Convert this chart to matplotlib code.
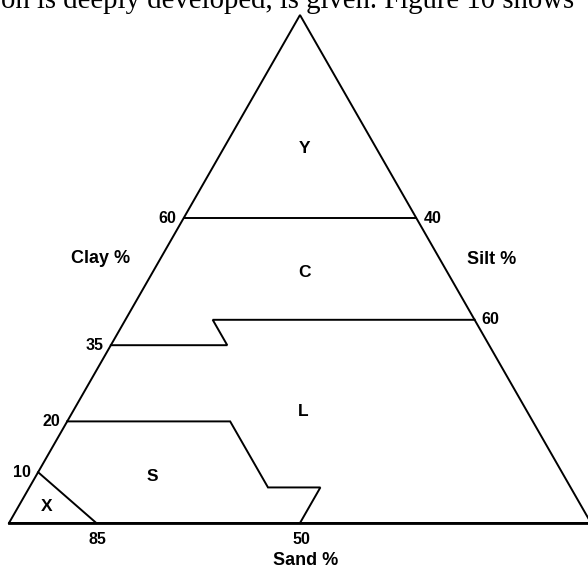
import matplotlib.pyplot as plt

# soil texture triangle, points given as (sand %, clay %), silt = 100 - sand - clay
outline = [(100, 0), (0, 0), (0, 100), (100, 0)]
y_c_line = [(40, 60), (0, 60)]
c_l_line = [(65, 35), (45, 35), (45, 40), (20, 40), (0, 40)]
l_s_line = [(80, 20), (52, 20), (52, 7), (43, 7), (50, 0)]
s_x_line = [(90, 10), (85, 0)]

clay_ticks = [60, 35, 20, 10]
silt_ticks = [40, 60]
sand_ticks = [85, 50]

classes = ["Y", "C", "L", "S", "X"]
class_pos = [(50.7, 73.8), (50.7, 49.4), (50.5, 21.9), (24.7, 9.1), (6.5, 3.3)]


def tern(sand, clay):
    silt = 100 - sand - clay
    return silt + clay / 2.0, clay


def line_xy(pts):
    xs = [tern(s, c)[0] for s, c in pts]
    ys = [tern(s, c)[1] for s, c in pts]
    return xs, ys


fig = plt.figure(figsize=(5.88, 5.70), dpi=100)
ax = fig.add_axes([0, 0, 1, 1])
ax.axis('off')
# pixel scale: 5.82 px per unit across, 5.08 px per unit up
ax.set_xlim(-9 / 5.82, (588 - 9) / 5.82)
ax.set_ylim((523 - 570) / 5.08, 523 / 5.08)

lw = 1.4
xs, ys = line_xy(outline)
ax.plot(xs, ys, color='black', lw=lw, solid_joinstyle='miter', clip_on=False)
xs, ys = line_xy([(100, 0), (0, 0)])
ax.plot(xs, ys, color='black', lw=2.0)
for pts in [y_c_line, c_l_line, l_s_line, s_x_line]:
    xs, ys = line_xy(pts)
    ax.plot(xs, ys, color='black', lw=lw, solid_joinstyle='miter')

font = dict(family='Liberation Sans', weight='bold', color='black')

for c in clay_ticks:
    ax.annotate(str(c), tern(100 - c, c), xytext=(-5, 0), textcoords='offset points',
                ha='right', va='center', fontsize=11.5, **font)
for s in silt_ticks:
    c = 100 - s
    ax.annotate(str(s), tern(0, c), xytext=(5, 0), textcoords='offset points',
                ha='left', va='center', fontsize=11.5, **font)
for s in sand_ticks:
    ax.annotate(str(s), tern(s, 0), xytext=(1, -12), textcoords='offset points',
                ha='center', va='center', fontsize=11.5, **font)

for name, (x, y) in zip(classes, class_pos):
    ax.text(x, y, name, ha='center', va='center', fontsize=12.5, **font)

ax.text(15.8, 52, "Clay %", ha='center', va='center', fontsize=13, **font)
ax.text(83, 51.8, "Silt %", ha='center', va='center', fontsize=13, **font)
ax.text(51, -7.4, "Sand %", ha='center', va='center', fontsize=13, **font)

# cropped line of running text from the page above the figure
fig.text(1 / 588, 1 - 8 / 570, "on is deeply developed, is given. Figure 10 shows",
         family='Liberation Serif', fontsize=20.7, ha='left', va='baseline')

fig.savefig('out.png', dpi=100)
